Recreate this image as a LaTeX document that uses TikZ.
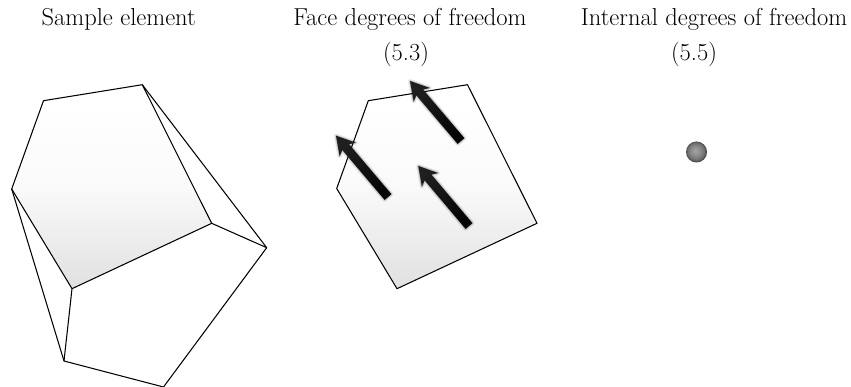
\documentclass[tikz,border=0pt]{standalone}
\usetikzlibrary{calc}
\tikzset{
  edge/.style={draw=black,line width=1.05pt,line join=round},
  title/.style={inner sep=0pt,font=\fontsize{24.5}{28}\selectfont,anchor=base},
}
\pgfdeclareverticalshading{facegrad}{100bp}{color(0bp)=(black!20); color(30bp)=(black!10); color(50bp)=(black!2); color(70bp)=(white); color(100bp)=(white)}
\pgfdeclareradialshading{ballgrad}{\pgfpoint{-3bp}{3bp}}{color(0bp)=(black!36); color(12bp)=(black!46); color(21bp)=(black!58); color(27bp)=(black!85); color(50bp)=(black!85)}
\newcommand{\arrowoutline}[2]{%
  ($(#1)!4.4pt!90:(#2)$) --
  ($($(#2)!15pt!(#1)$)!4.4pt!-90:(#1)$) --
  ($($(#2)!18pt!(#1)$)!10.5pt!-90:(#1)$) --
  (#2) --
  ($($(#2)!18pt!(#1)$)!10.5pt!90:(#1)$) --
  ($($(#2)!15pt!(#1)$)!4.4pt!90:(#1)$) --
  ($(#1)!4.4pt!-90:(#2)$) -- cycle}
\newcommand{\dofarrow}[2]{%
  \begin{scope}[yshift=-2pt]
  \foreach \s/\o in {4.5/0.05,3/0.08,1.5/0.12}{
    \filldraw[black,opacity=\o,line join=round,line width=\s pt] \arrowoutline{#1}{#2};
  }
  \end{scope}
  \shade[left color=black!88,right color=black!98,shading angle=40] \arrowoutline{#1}{#2};
}
\begin{document}
\begin{tikzpicture}[x=1pt,y=-1pt]
\useasboundingbox (0,0) rectangle (851,387);
\clip (0,0) rectangle (851,387);
\coordinate (A) at (43.5,100.7);
\coordinate (B) at (142.3,84.7);
\coordinate (C) at (211.7,223.3);
\coordinate (D) at (72,288.7);
\coordinate (E) at (11.7,189);
\coordinate (F) at (266.7,247.7);
\coordinate (G) at (64,361);
\coordinate (H) at (163.5,387);
\shade[shading=facegrad] (A)--(B)--(C)--(D)--(E)--cycle;
\draw[edge] (A)--(B)--(C)--(D)--(E)--cycle;
\draw[edge] (B)--(F)--(C);
\draw[edge] (F)--(H)--(G)--(D);
\draw[edge] (E)--(G);
\coordinate (A2) at (368.3,100.7);
\coordinate (B2) at (467.5,84.7);
\coordinate (C2) at (537,223.3);
\coordinate (D2) at (397,288.7);
\coordinate (E2) at (336.7,188.5);
\shade[shading=facegrad] (A2)--(B2)--(C2)--(D2)--(E2)--cycle;
\draw[edge] (A2)--(B2)--(C2)--(D2)--(E2)--cycle;
\coordinate (t1) at (461,141);
\coordinate (h1) at (410,81);
\coordinate (t2) at (388,197);
\coordinate (h2) at (336,135.7);
\coordinate (t3) at (469,226);
\coordinate (h3) at (418.3,166);
\dofarrow{t1}{h1}
\dofarrow{t2}{h2}
\dofarrow{t3}{h3}
\shade[shading=ballgrad] (696.5,152) circle (10.5);
\node[title] (s) at (118.7,26) {Sample element};
\node[title] (f) at (410,26) {Face degrees of freedom};
\node[title] (i) at (714,26) {Internal degrees of freedom};
\node[title] (f2) at (406,61) {(5.3)};
\node[title] (i2) at (694,61) {(5.5)};
\end{tikzpicture}
\end{document}
